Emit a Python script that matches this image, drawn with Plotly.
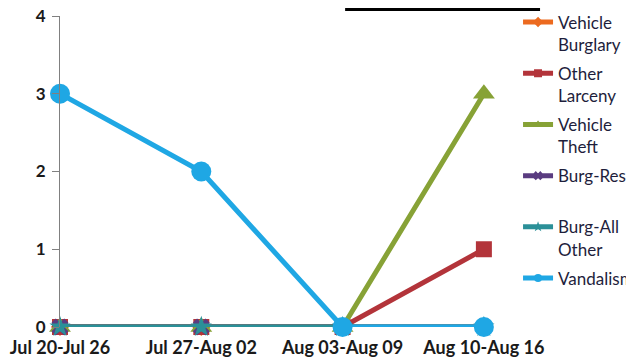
import plotly.graph_objects as go

weeks = ["Jul 20-Jul 26", "Jul 27-Aug 02", "Aug 03-Aug 09", "Aug 10-Aug 16"]
vehicle_burglary = [0, 0, 0, 0]
other_larceny = [0, 0, 0, 1]
vehicle_theft = [0, 0, 0, 3]
burg_res = [0, 0, 0, 0]
burg_all_other = [0, 0, 0, 0]
vandalism = [3, 2, 0, 0]
y_ticks = [0, 1, 2, 3, 4]

series = [
    ("Vehicle<br>Burglary", vehicle_burglary, "#EC6A1F", "diamond", 14),
    ("Other<br>Larceny", other_larceny, "#B3343A", "square", 16),
    ("Vehicle<br>Theft", vehicle_theft, "#87A236", "triangle-up", 19),
    ("Burg-Res<br>\u00a0", burg_res, "#5A3C80", "x", 15),
    ("Burg-All<br>Other", burg_all_other, "#2B9098", "star", 16),
    ("Vandalism<br>\u00a0", vandalism, "#1FA7E4", "circle", 20),
]

FONT = "Lato"
fig = go.Figure()
for name, vals, color, sym, size in series:
    fig.add_trace(go.Scatter(
        x=weeks, y=vals, mode="lines+markers", name=name,
        line=dict(color=color, width=5),
        marker=dict(color=color, symbol=sym, size=size, line=dict(width=0)),
        showlegend=False, cliponaxis=False,
    ))
for i, (name, vals, color, sym, size) in enumerate(series):
    fig.add_trace(go.Scatter(
        x=[None], y=[None], mode="lines+markers", name=name,
        line=dict(color=color, width=5),
        marker=dict(color=color, symbol=sym, size=8, line=dict(width=0)),
        legendgroup=f"g{i}", showlegend=True,
    ))

fig.update_layout(
    width=626, height=351,
    margin=dict(l=52, r=134, t=8, b=32, autoexpand=False),
    paper_bgcolor="white", plot_bgcolor="white",
    font=dict(family=FONT, color="#1A1A1A"),
    showlegend=True,
    legend=dict(
        x=1.041, y=1.037, xanchor="left", yanchor="top",
        font=dict(family=FONT, size=17, color="#1E1E3C"),
        valign="top", tracegroupgap=4, bgcolor="rgba(0,0,0,0)",
        itemwidth=30, maxheight=600,
    ),
    xaxis=dict(
        type="category", range=[0, 3.114], showgrid=False, zeroline=False,
        showline=False, ticks="",
        tickfont=dict(family=FONT, size=18, color="#1A1A1A", weight="bold"),
        ticklabelstandoff=8,
    ),
    yaxis=dict(
        range=[0, 4], tickvals=y_ticks, showgrid=False, zeroline=False,
        showline=True, linecolor="#808080", linewidth=1,
        ticks="outside", ticklen=7, tickcolor="#808080",
        tickfont=dict(family=FONT, size=17, color="#1A1A1A", weight="bold"),
        ticklabelstandoff=3, ticklabeloverflow="allow",
    ),
    shapes=[dict(type="rect", xref="paper", yref="paper",
                 x0=0.648, x1=1.091, y0=1.016, y1=1.0257,
                 fillcolor="black", line=dict(width=0))],
)

fig.write_html("out.html")
